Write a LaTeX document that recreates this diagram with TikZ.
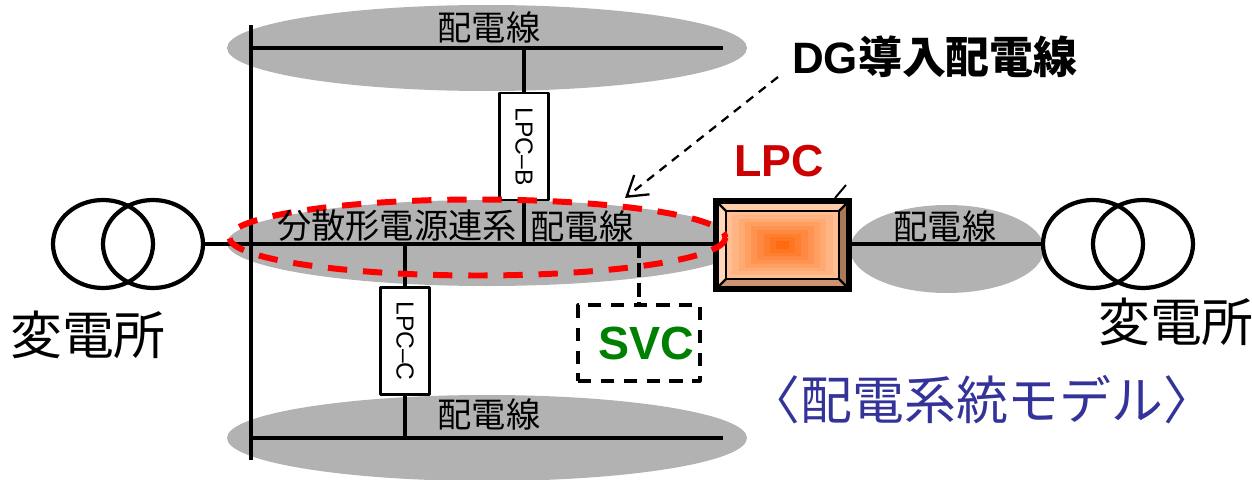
\documentclass[tikz,border=0pt]{standalone}
\usepackage{fontspec}
\setmainfont{Noto Sans CJK JP}
\newfontfamily\latinfont{Liberation Sans}
\usetikzlibrary{arrows.meta}
\definecolor{lineGray}{HTML}{B2B2B2}
\definecolor{lpcRed}{HTML}{CC0000}
\definecolor{svcGreen}{HTML}{008000}
\definecolor{titleBlue}{HTML}{333399}
\definecolor{lpcEdge}{HTML}{FFBE94}
\definecolor{lpcCore}{HTML}{FF6A10}
\definecolor{bevelTop}{HTML}{FFCBA8}
\definecolor{bevelLeft}{HTML}{FFD6BA}
\definecolor{bevelRight}{HTML}{A87A58}
\definecolor{bevelBot}{HTML}{CC9470}
\tikzset{
	feeder/.style={fill=lineGray},
	wire/.style={line width=2.4pt},
	lpcbox/.style={draw, fill=white, line width=1.3pt, rotate=-90, inner sep=0pt, minimum width=2.14cm, minimum height=0.98cm, font=\latinfont\fontsize{14}{14}\selectfont},
	label/.style={font=\fontsize{19.5}{20}\selectfont, inner sep=0pt},
	station/.style={font=\fontsize{29.5}{30}\selectfont, inner sep=0pt},
	bigfont/.style={font=\latinfont\bfseries\fontsize{25.5}{26}\selectfont, inner sep=0pt}
}
\begin{document}
\begin{tikzpicture}[x=0.02cm, y=-0.02cm, line join=round]
	\useasboundingbox (0,0) rectangle (1252,480);
	% feeders
	\foreach \y in {48, 243, 438} \fill[feeder] (487,\y) ellipse (260 and 43);
	\fill[feeder] (947,249) ellipse (97 and 44);
	% named points
	\coordinate (busT) at (251,25);
	\coordinate (busB) at (251,460);
	\coordinate (topL) at (251,48);
	\coordinate (topR) at (723,48);
	\coordinate (topJ) at (524,48);
	\coordinate (midL) at (203,244);
	\coordinate (midB) at (524,244);
	\coordinate (midC) at (405,244);
	\coordinate (midS) at (639,244);
	\coordinate (botL) at (251,438);
	\coordinate (botR) at (723,438);
	\coordinate (botJ) at (405,438);
	\coordinate (lpcL) at (713,244);
	\coordinate (lpcR) at (852,244);
	\coordinate (subR) at (1043,244);
	\coordinate (arrowS) at (778,77);
	\coordinate (arrowE) at (625,198);
	% transformers
	\draw[wire] (103,244) ellipse (50 and 44);
	\draw[wire] (153,244) ellipse (50 and 44);
	\draw[wire] (1093,244) ellipse (50 and 44);
	\draw[wire] (1143,244) ellipse (50 and 44);
	% lines
	\draw[wire] (busT) -- (busB);
	\draw[wire] (topL) -- (topR);
	\draw[wire] (midL) -- (lpcL);
	\draw[wire] (botL) -- (botR);
	\draw[wire] (lpcR) -- (subR);
	\node[lpcbox] (lpcB) at (524,146.5) {LPC–B};
	\node[lpcbox] (lpcC) at (405,341) {LPC–C};
	\draw[wire] (topJ) -- (lpcB.west);
	\draw[wire] (lpcB.east) -- (midB);
	\draw[wire] (midC) -- (lpcC.west);
	\draw[wire] (lpcC.east) -- (botJ);
	% SVC
	\node[draw, line width=1.8pt, dash pattern=on 7.5pt off 5.5pt, minimum width=2.44cm, minimum height=1.52cm, inner sep=0pt] (svcBox) at (639,343) {};
	\draw[wire, dash pattern=on 8pt off 3pt] (midS) -- (svcBox.north);
	\node[bigfont, font=\latinfont\bfseries\fontsize{26.5}{27}\selectfont, text=svcGreen] (svc) at (646,343) {SVC};
	% dg arrow
	\draw[line width=1.3pt, dash pattern=on 5pt off 4pt, -{Straight Barb[length=11pt, width=14pt, line width=1.3pt]}] (arrowS) -- (arrowE);
	% lpc unit
	\fill[black] (713,198) rectangle (852,292);
	\fill[bevelTop] (719,204) -- (846,204) -- (839,211) -- (726,211) -- cycle;
	\fill[bevelLeft] (719,204) -- (726,211) -- (726,279) -- (719,286) -- cycle;
	\fill[bevelRight] (846,204) -- (839,211) -- (839,279) -- (846,286) -- cycle;
	\fill[bevelBot] (719,286) -- (726,279) -- (839,279) -- (846,286) -- cycle;
	\foreach \k in {0,...,8}{
		\pgfmathsetmacro{\t}{\k*12.5}
		\pgfmathsetmacro{\dx}{56.5*(1-\k/9)}
		\pgfmathsetmacro{\dy}{34*(1-\k/9)}
		\fill[lpcCore!\t!lpcEdge] (782.5-\dx,245-\dy) rectangle (782.5+\dx,245+\dy);
	}
	\draw[line width=1.4pt] (726,211) rectangle (839,279);
	\draw[line width=1.4pt] (716,201) -- (726,211) (849,201) -- (839,211) (716,289) -- (726,279) (849,289) -- (839,279);
	\draw[line width=3pt] (716,201) rectangle (849,289);
	\coordinate (stubA) at (835,198);
	\coordinate (stubB) at (846,185);
	\draw[line width=1.1pt] (stubA) -- (stubB);
	% red outline
	\draw[red, line width=3.4pt, dash pattern=on 11pt off 9pt] (477.5,237.5) ellipse (248 and 38);
	% labels
	\node[label] (lblTop) at (489,27) {配電線};
	\node[label] (lblMidA) at (397,226) {分散形電源連系};
	\node[label] (lblMidB) at (582,226) {配電線};
	\node[label] (lblBot) at (489,414) {配電線};
	\node[label] (lblRight) at (945,226) {配電線};
	\node[station] (subA) at (88,335) {変電所};
	\node[station] (subB) at (1176,322) {変電所};
	\node[bigfont, text=lpcRed] (lpcText) at (779,161) {LPC};
	\node[font=\bfseries\fontsize{25}{26}\selectfont, inner sep=0pt] (dgText) at (935,57) {{\latinfont DG}導入配電線};
	\node[font=\fontsize{29.5}{30}\selectfont, text=titleBlue, inner sep=0pt] (modelText) at (982,400) {〈配電系統モデル〉};
\end{tikzpicture}
\end{document}
